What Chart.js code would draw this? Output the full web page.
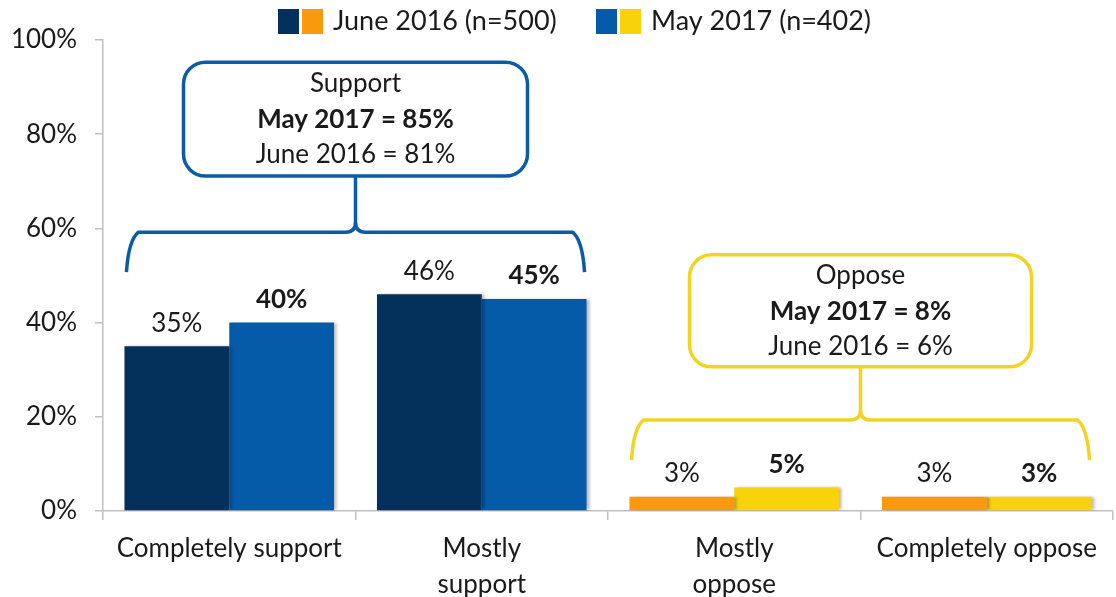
<!DOCTYPE html>
<html>
<head>
<meta charset="utf-8">
<script src="https://cdn.jsdelivr.net/npm/chart.js@4"></script>
<style>
  html, body { margin: 0; padding: 0; background: #ffffff; }
  #wrap { width: 1116px; height: 597px; position: relative; }
</style>
</head>
<body>
<div id="wrap"><canvas id="c" width="1116" height="597"></canvas></div>
<script>
// ---- Data ----
const categories = [['Completely support'], ['Mostly', 'support'], ['Mostly', 'oppose'], ['Completely oppose']];
const june2016 = [35, 46, 3, 3];
const may2017 = [40, 45, 5, 3];
const seriesNames = ['June 2016 (n=500)', 'May 2017 (n=402)'];
const juneColors = ['#04305C', '#04305C', '#F8990E', '#F8990E'];
const mayColors = ['#065BA8', '#065BA8', '#F8D30C', '#F8D30C'];
const yTickValues = [0, 20, 40, 60, 80, 100];
const groupNames = ['Support', 'Oppose'];
const groupMay = [85, 8];
const groupJune = [81, 6];
const groupColors = ['#0B5CA6', '#F3D322'];

const FONT = 'Lato';
const FS = 26;
const TEXT = '#1a1a1a';

// Custom legend with double swatches
const legendPlugin = {
  id: 'dualLegend',
  afterDraw(chart) {
    const ctx = chart.ctx;
    ctx.save();
    ctx.font = '27px ' + FONT;
    ctx.textBaseline = 'middle';
    ctx.fillStyle = TEXT;
    const items = [
      { c1: juneColors[0], c2: juneColors[2], label: seriesNames[0], x: 278 },
      { c1: mayColors[0], c2: mayColors[2], label: seriesNames[1], x: 596 }
    ];
    items.forEach(it => {
      ctx.fillStyle = it.c1; ctx.fillRect(it.x, 9, 21, 25);
      ctx.fillStyle = it.c2; ctx.fillRect(it.x + 24, 9, 21, 25);
      ctx.fillStyle = TEXT;
      ctx.textAlign = 'left';
      ctx.fillText(it.label, it.x + 55, 21);
    });
    ctx.restore();
  }
};

// Bar shadows
const shadowPlugin = {
  id: 'barShadow',
  beforeDatasetsDraw(chart) {
    const ctx = chart.ctx;
    ctx.save();
    ctx.shadowColor = 'rgba(0,0,0,0.28)';
    ctx.shadowBlur = 3;
    ctx.shadowOffsetX = 3;
    ctx.shadowOffsetY = 0;
  },
  afterDatasetsDraw(chart) {
    chart.ctx.restore();
  }
};

// Value labels
const valueLabelPlugin = {
  id: 'valueLabels',
  afterDatasetsDraw(chart) {
    const ctx = chart.ctx;
    ctx.save();
    ctx.textAlign = 'center';
    ctx.textBaseline = 'middle';
    ctx.fillStyle = TEXT;
    chart.data.datasets.forEach((ds, di) => {
      const meta = chart.getDatasetMeta(di);
      ctx.font = (di === 1 ? 'bold ' : '') + FS + 'px ' + FONT;
      meta.data.forEach((bar, i) => {
        ctx.fillText(ds.data[i] + '%', bar.x, bar.y - 23);
      });
    });
    ctx.restore();
  }
};

// Callout boxes with braces
const calloutPlugin = {
  id: 'callouts',
  afterDatasetsDraw(chart) {
    const ctx = chart.ctx;
    const y = chart.scales.y;
    const m0 = chart.getDatasetMeta(0), m1 = chart.getDatasetMeta(1);
    const layout = [
      { boxTop: 95.3, boxBottom: 71.1, brace: 59.2, end: 50.7, w: 344 },
      { boxTop: 54.4, boxBottom: 30.6, brace: 19.3, end: 10.8, w: 342 }
    ];
    groupNames.forEach((name, g) => {
      const L = layout[g];
      const a = m0.data[2 * g], b = m1.data[2 * g + 1];
      const left = a.x - a.width / 2 + 4;
      const right = b.x + b.width / 2 - 4;
      const cx = (left + right) / 2;
      const top = y.getPixelForValue(L.boxTop);
      const bot = y.getPixelForValue(L.boxBottom);
      const by = y.getPixelForValue(L.brace);
      const ey = y.getPixelForValue(L.end);
      const r = 10;
      ctx.save();
      ctx.strokeStyle = groupColors[g];
      ctx.lineWidth = 3.5;
      ctx.lineJoin = 'round';
      // box
      const bx = cx - L.w / 2;
      ctx.beginPath();
      ctx.roundRect(bx, top, L.w, bot - top, 22);
      ctx.fillStyle = '#ffffff';
      ctx.fill();
      ctx.stroke();
      // brace
      ctx.beginPath();
      ctx.moveTo(left - 2, ey);
      ctx.quadraticCurveTo(left, by + 8, left + r, by);
      ctx.lineTo(cx - r, by);
      ctx.quadraticCurveTo(cx, by, cx, by - r);
      ctx.lineTo(cx, bot);
      ctx.moveTo(right + 2, ey);
      ctx.quadraticCurveTo(right, by + 8, right - r, by);
      ctx.lineTo(cx + r, by);
      ctx.quadraticCurveTo(cx, by, cx, by - r);
      ctx.stroke();
      // text
      ctx.fillStyle = TEXT;
      ctx.textAlign = 'center';
      ctx.textBaseline = 'middle';
      ctx.font = FS + 'px ' + FONT;
      ctx.fillText(name, cx, top + 21);
      ctx.font = 'bold ' + FS + 'px ' + FONT;
      ctx.fillText('May 2017 = ' + groupMay[g] + '%', cx, top + 57);
      ctx.font = FS + 'px ' + FONT;
      ctx.fillText('June 2016 = ' + groupJune[g] + '%', cx, top + 92);
      ctx.restore();
    });
  }
};

new Chart(document.getElementById('c'), {
  type: 'bar',
  data: {
    labels: categories,
    datasets: [
      { label: seriesNames[0], data: june2016, backgroundColor: juneColors, borderWidth: 0 },
      { label: seriesNames[1], data: may2017, backgroundColor: mayColors, borderWidth: 0 }
    ]
  },
  options: {
    responsive: false,
    animation: false,
    devicePixelRatio: 1,
    layout: { padding: { top: 40, right: 3, left: 0, bottom: 0 } },
    datasets: { bar: { categoryPercentage: 0.83, barPercentage: 1.0 } },
    plugins: {
      legend: { display: false },
      tooltip: { enabled: false },
      title: { display: false }
    },
    scales: {
      x: {
        offset: true,
        grid: { offset: true, drawOnChartArea: false, drawTicks: true, tickLength: 9, color: '#BFBFBF', lineWidth: 1.5 },
        border: { display: true, color: '#BFBFBF', width: 1.5 },
        ticks: { color: TEXT, font: { family: FONT, size: FS, lineHeight: 36 / 26 }, padding: 11, maxRotation: 0, autoSkip: false },
        afterFit(scale) { scale.height = 86; }
      },
      y: {
        min: 0, max: 100,
        afterBuildTicks(scale) { scale.ticks = yTickValues.map(v => ({ value: v })); },
        grid: { drawOnChartArea: false, drawTicks: true, tickLength: 8, color: '#BFBFBF', lineWidth: 1.5 },
        border: { display: true, color: '#BFBFBF', width: 1.5 },
        ticks: { color: TEXT, font: { family: FONT, size: FS }, padding: 18, callback: v => v + '%' },
        afterFit(scale) { scale.width = 103; }
      }
    }
  },
  plugins: [shadowPlugin, valueLabelPlugin, calloutPlugin, legendPlugin]
});
</script>
</body>
</html>
